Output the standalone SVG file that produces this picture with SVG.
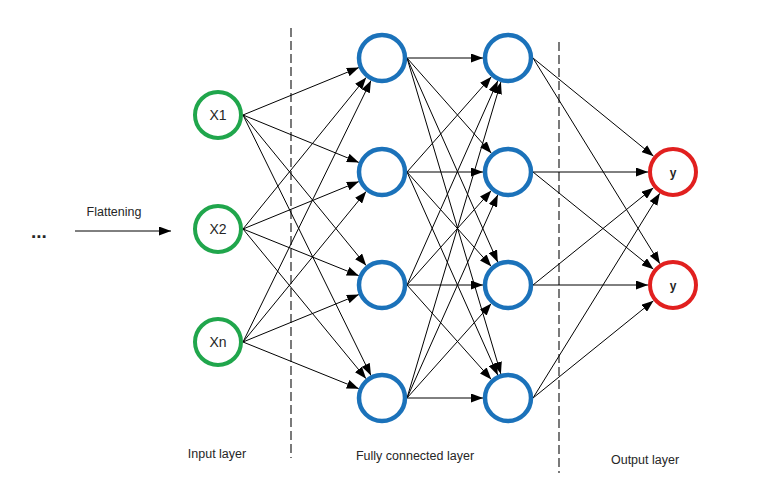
<svg xmlns="http://www.w3.org/2000/svg" width="762" height="480" viewBox="0 0 762 480">
<defs>
<marker id="arr" markerUnits="userSpaceOnUse" markerWidth="12" markerHeight="9" refX="12" refY="4.5" orient="auto">
<path d="M0,0 L12,4.5 L0,9 z" fill="#000"/>
</marker>
<style>
.c{stroke:#000;stroke-width:1;fill:none;marker-end:url(#arr)}
.in{fill:#fff;stroke:#20a64c;stroke-width:4}
.hid{fill:#fff;stroke:#1b72ba;stroke-width:4.5}
.out{fill:#fff;stroke:#e1201f;stroke-width:4}
.t{font-family:"Liberation Sans",Arial,sans-serif;fill:#262626}
.dash{stroke:#333;stroke-width:1.3;stroke-dasharray:9,4;fill:none}
</style>
</defs>
<rect width="762" height="480" fill="#fff"/>
<g id="dividers">
<line class="dash" x1="291" y1="28" x2="291" y2="458"/>
<line class="dash" x1="559" y1="42" x2="559" y2="473"/>
</g>
<g id="connectors">
<line class="c" x1="75" y1="231" x2="171" y2="231"/>
<line class="c" x1="243" y1="115" x2="358.9" y2="67.5"/>
<line class="c" x1="243" y1="115" x2="358.9" y2="162.5"/>
<line class="c" x1="243" y1="115" x2="366.2" y2="265.6"/>
<line class="c" x1="243" y1="115" x2="371" y2="375.6"/>
<line class="c" x1="243" y1="229" x2="366.2" y2="77.4"/>
<line class="c" x1="243" y1="229" x2="358.9" y2="181.5"/>
<line class="c" x1="243" y1="229" x2="358.8" y2="275.7"/>
<line class="c" x1="243" y1="229" x2="366.1" y2="378.7"/>
<line class="c" x1="243" y1="342" x2="371" y2="80.5"/>
<line class="c" x1="243" y1="342" x2="366.2" y2="191.4"/>
<line class="c" x1="243" y1="342" x2="358.9" y2="294.5"/>
<line class="c" x1="243" y1="342" x2="358.8" y2="388.7"/>
<line class="c" x1="407" y1="58" x2="483" y2="58"/>
<line class="c" x1="407" y1="58" x2="491.4" y2="153.3"/>
<line class="c" x1="407" y1="58" x2="497.8" y2="262.2"/>
<line class="c" x1="407" y1="58" x2="500.9" y2="374"/>
<line class="c" x1="407" y1="172" x2="491.4" y2="76.7"/>
<line class="c" x1="407" y1="172" x2="483" y2="172"/>
<line class="c" x1="407" y1="172" x2="491.3" y2="266.4"/>
<line class="c" x1="407" y1="172" x2="497.8" y2="375.2"/>
<line class="c" x1="407" y1="285" x2="497.8" y2="80.8"/>
<line class="c" x1="407" y1="285" x2="491.3" y2="190.6"/>
<line class="c" x1="407" y1="285" x2="483" y2="285"/>
<line class="c" x1="407" y1="285" x2="491.3" y2="379.4"/>
<line class="c" x1="407" y1="398" x2="500.9" y2="82"/>
<line class="c" x1="407" y1="398" x2="497.8" y2="194.8"/>
<line class="c" x1="407" y1="398" x2="491.3" y2="303.6"/>
<line class="c" x1="407" y1="398" x2="483" y2="398"/>
<line class="c" x1="533" y1="58" x2="653.6" y2="156.2"/>
<line class="c" x1="533" y1="58" x2="659.9" y2="263.7"/>
<line class="c" x1="533" y1="172" x2="648" y2="172"/>
<line class="c" x1="533" y1="172" x2="653.5" y2="269.3"/>
<line class="c" x1="533" y1="285" x2="653.5" y2="187.7"/>
<line class="c" x1="533" y1="285" x2="648" y2="285"/>
<line class="c" x1="533" y1="398" x2="659.8" y2="193.3"/>
<line class="c" x1="533" y1="398" x2="653.5" y2="300.7"/>
</g>
<g id="flatten-label">
<text class="t" x="31" y="238" font-size="19" font-weight="bold" fill="#222">...</text>
<text class="t" x="114" y="216" font-size="12.5" text-anchor="middle">Flattening</text>
</g>
<g id="x1"><circle class="in" cx="218" cy="115" r="23"/><text class="t" x="218" y="120" font-size="14" text-anchor="middle">X1</text></g>
<g id="x2"><circle class="in" cx="218" cy="229" r="23"/><text class="t" x="218" y="234" font-size="14" text-anchor="middle">X2</text></g>
<g id="xn"><circle class="in" cx="218" cy="342" r="23"/><text class="t" x="218" y="347" font-size="14" text-anchor="middle">Xn</text></g>
<g id="h1a"><circle class="hid" cx="382" cy="58" r="23"/></g>
<g id="h1b"><circle class="hid" cx="382" cy="172" r="23"/></g>
<g id="h1c"><circle class="hid" cx="382" cy="285" r="23"/></g>
<g id="h1d"><circle class="hid" cx="382" cy="398" r="23"/></g>
<g id="h2a"><circle class="hid" cx="508" cy="58" r="23"/></g>
<g id="h2b"><circle class="hid" cx="508" cy="172" r="23"/></g>
<g id="h2c"><circle class="hid" cx="508" cy="285" r="23"/></g>
<g id="h2d"><circle class="hid" cx="508" cy="398" r="23"/></g>
<g id="y1"><circle class="out" cx="673" cy="172" r="23"/><text class="t" x="673" y="176.5" font-size="12" font-weight="bold" text-anchor="middle">y</text></g>
<g id="y2"><circle class="out" cx="673" cy="285" r="23"/><text class="t" x="673" y="289.5" font-size="12" font-weight="bold" text-anchor="middle">y</text></g>
<g id="layer-labels">
<text class="t" x="217" y="458" font-size="12.5" text-anchor="middle">Input layer</text>
<text class="t" x="415" y="460" font-size="12.5" text-anchor="middle">Fully connected layer</text>
<text class="t" x="645" y="464" font-size="12.5" text-anchor="middle">Output layer</text>
</g>
</svg>
